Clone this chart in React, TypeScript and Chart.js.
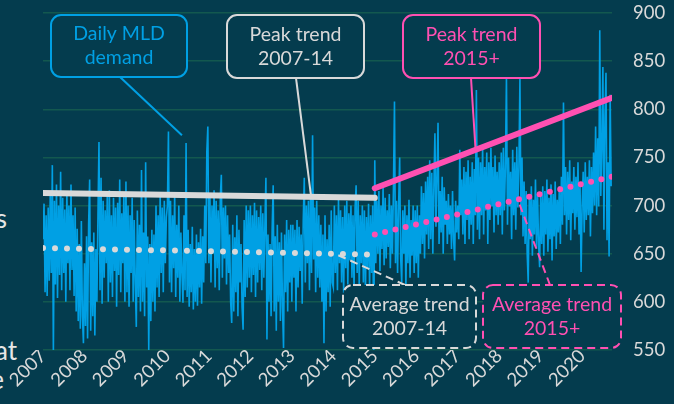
import { useEffect, useRef } from 'react';
import { Chart, registerables } from 'chart.js';

Chart.register(...registerables);

const years = [2007, 2008, 2009, 2010, 2011, 2012, 2013, 2014, 2015, 2016, 2017, 2018, 2019, 2020];
const samplesPerYear = 40;

const demand2007 = [665, 702, 610, 690, 606, 698, 622, 712, 630, 742, 547, 705, 618, 722, 604, 700, 628, 735, 612, 708, 630, 696, 600, 715, 640, 700, 612, 722, 633, 690, 606, 698, 590, 676, 580, 660, 572, 684, 585, 557];
const demand2008 = [640, 575, 668, 562, 680, 727, 570, 662, 585, 672, 565, 655, 600, 690, 766, 612, 729, 598, 705, 625, 695, 640, 712, 600, 716, 620, 690, 605, 708, 632, 698, 595, 703, 628, 727, 610, 692, 640, 713, 600];
const demand2009 = [725, 610, 700, 595, 690, 630, 708, 600, 685, 620, 574, 695, 605, 680, 590, 737, 600, 672, 585, 745, 615, 668, 550, 660, 580, 675, 600, 670, 590, 700, 615, 690, 605, 712, 630, 698, 610, 705, 640, 688];
const demand2010 = [700, 777, 620, 705, 610, 690, 635, 712, 605, 680, 625, 700, 600, 672, 630, 599, 690, 612, 765, 605, 675, 595, 660, 610, 678, 592, 655, 600, 670, 596, 662, 615, 676, 598, 668, 620, 700, 640, 756, 782];
const demand2011 = [640, 710, 620, 700, 650, 716, 615, 705, 635, 695, 612, 708, 732, 625, 698, 645, 700, 618, 690, 630, 670, 600, 578, 680, 590, 667, 610, 690, 585, 675, 620, 660, 595, 571, 685, 605, 700, 615, 695, 625];
const demand2012 = [700, 610, 690, 628, 703, 605, 695, 620, 688, 633, 700, 612, 692, 625, 680, 729, 561, 670, 600, 660, 585, 675, 721, 590, 668, 570, 680, 600, 662, 580, 672, 595, 552, 670, 610, 685, 590, 675, 620, 680];
const demand2013 = [600, 680, 625, 675, 590, 685, 615, 678, 632, 670, 598, 684, 729, 620, 700, 640, 705, 612, 710, 630, 773, 644, 698, 610, 705, 625, 690, 615, 680, 600, 670, 557, 690, 590, 665, 610, 680, 595, 695, 620];
const demand2014 = [615, 700, 630, 690, 612, 706, 640, 695, 620, 688, 609, 700, 635, 705, 618, 692, 643, 700, 625, 690, 612, 698, 721, 630, 705, 615, 690, 640, 700, 620, 695, 610, 688, 635, 702, 615, 690, 630, 700, 548];
const demand2015 = [747, 640, 705, 650, 715, 632, 700, 655, 719, 638, 708, 645, 695, 657, 712, 635, 700, 650, 718, 808, 640, 705, 630, 700, 750, 645, 620, 695, 650, 700, 615, 690, 640, 706, 625, 685, 648, 700, 630, 695];
const demand2016 = [640, 700, 625, 690, 650, 720, 660, 713, 645, 725, 670, 730, 655, 747, 665, 734, 650, 720, 775, 678, 728, 786, 660, 715, 672, 730, 650, 719, 680, 705, 660, 712, 670, 700, 655, 715, 665, 643, 705, 672];
const demand2017 = [700, 665, 758, 690, 727, 670, 740, 660, 735, 685, 747, 665, 730, 680, 745, 660, 738, 690, 820, 675, 750, 665, 745, 690, 761, 670, 740, 695, 755, 660, 745, 685, 760, 699, 740, 672, 752, 690, 735, 680];
const demand2018 = [745, 690, 755, 670, 760, 695, 740, 834, 680, 750, 699, 735, 665, 758, 690, 745, 675, 761, 698, 740, 832, 690, 750, 668, 725, 660, 715, 650, 620, 710, 665, 720, 648, 706, 670, 727, 655, 712, 660, 636];
const demand2019 = [710, 660, 720, 648, 715, 670, 727, 652, 708, 665, 722, 643, 712, 668, 725, 655, 706, 672, 720, 660, 730, 680, 807, 690, 740, 670, 735, 685, 747, 664, 725, 692, 740, 675, 730, 688, 745, 670, 720, 631];
const demand2020 = [700, 735, 672, 745, 685, 730, 690, 747, 668, 740, 692, 755, 700, 782, 690, 770, 699, 882, 710, 760, 844, 675, 790, 838, 664, 745, 647, 815, 720];

const demandByYear = [demand2007, demand2008, demand2009, demand2010, demand2011, demand2012, demand2013, demand2014, demand2015, demand2016, demand2017, demand2018, demand2019, demand2020];

// Trend lines [start, end]
const trendEarlyYears = [2007, 2015];
const peakTrendEarly = [713, 708];
const avgTrendEarly = [656, 649];
const trendLateYears = [2015, 2020.72];
const peakTrendLate = [718, 812];
const avgTrendLate = [670, 730];

const xMin = 2007;
const xMax = 2020.72;
const yMin = 550;
const yMax = 900;
const yStep = 50;

// ---- Styles ----
const BG = '#043c4e';
const GRID = '#13584f';
const TEXT = '#d9d9d9';
const BLUE = '#00a0e4';
const PINK = '#ff50b2';
const FONT = 'Lato, "Open Sans", sans-serif';

type Callout = {
  lines: string[];
  color: string;
  box: [number, number, number, number];
  dashed: boolean;
  from: [number, number];
  to: [number, number]; // data coords (year, value)
};

const callouts: Callout[] = [
  { lines: ['Daily MLD', 'demand'], color: BLUE, box: [51, 15, 136, 62], dashed: false, from: [120, 77], to: [2010.35, 773] },
  { lines: ['Peak trend', '2007-14'], color: TEXT, box: [227, 15, 137, 63], dashed: false, from: [296, 78], to: [2013.46, 711] },
  { lines: ['Peak trend', '2015+'], color: PINK, box: [403, 15, 137, 63], dashed: false, from: [471, 78], to: [2017.43, 758] },
  { lines: ['Average trend', '2007-14'], color: TEXT, box: [343, 285, 133, 63], dashed: true, from: [405, 285], to: [2014.04, 650] },
  { lines: ['Average trend', '2015+'], color: PINK, box: [483, 285, 138, 63], dashed: true, from: [550, 285], to: [2018.45, 706] },
];

const calloutPlugin = {
  id: 'callouts',
  afterDatasetsDraw(chart: any) {
    const ctx: CanvasRenderingContext2D = chart.ctx;
    const xs = chart.scales.x;
    const ys = chart.scales.y;
    for (const c of callouts) {
      const [bx, by, bw, bh] = c.box;
      ctx.save();
      ctx.lineWidth = 2;
      ctx.strokeStyle = c.color;
      ctx.setLineDash(c.dashed ? [8, 5] : []);
      ctx.beginPath();
      ctx.moveTo(c.from[0], c.from[1]);
      ctx.lineTo(xs.getPixelForValue(c.to[0]), ys.getPixelForValue(c.to[1]));
      ctx.stroke();
      ctx.beginPath();
      (ctx as any).roundRect(bx, by, bw, bh, 10);
      ctx.fillStyle = BG;
      ctx.fill();
      ctx.stroke();
      ctx.setLineDash([]);
      ctx.fillStyle = c.color;
      ctx.font = `19.5px ${FONT}`;
      ctx.textAlign = 'center';
      ctx.textBaseline = 'middle';
      c.lines.forEach((t, i) => {
        ctx.fillText(t, bx + bw / 2, by + bh / 2 + (i - 0.5) * 24);
      });
      ctx.restore();
    }
  },
};

export default function App() {
  const ref = useRef<HTMLCanvasElement | null>(null);

  useEffect(() => {
    if (!ref.current) return;
    const daily: { x: number; y: number }[] = [];
    demandByYear.forEach((arr, yi) => {
      arr.forEach((v, i) => daily.push({ x: years[yi] + i / samplesPerYear, y: v }));
    });
    const pts = (xsArr: number[], ysArr: number[]) => xsArr.map((x, i) => ({ x, y: ysArr[i] }));

    Chart.defaults.font.family = FONT;

    const chart = new Chart(ref.current, {
      type: 'line',
      data: {
        datasets: [
          { label: 'Daily MLD demand', data: daily, borderColor: BLUE, borderWidth: 1.6, pointRadius: 0, tension: 0, order: 5 },
          { label: 'Peak trend 2007-14', data: pts(trendEarlyYears, peakTrendEarly), borderColor: TEXT, borderWidth: 6, pointRadius: 0, borderCapStyle: 'round', order: 1 },
          { label: 'Average trend 2007-14', data: pts(trendEarlyYears, avgTrendEarly), borderColor: TEXT, borderWidth: 6, pointRadius: 0, borderCapStyle: 'round', borderDash: [0, 12], order: 1 },
          { label: 'Peak trend 2015+', data: pts(trendLateYears, peakTrendLate), borderColor: PINK, borderWidth: 6, pointRadius: 0, borderCapStyle: 'round', order: 1 },
          { label: 'Average trend 2015+', data: pts(trendLateYears, avgTrendLate), borderColor: PINK, borderWidth: 6, pointRadius: 0, borderCapStyle: 'round', borderDash: [0, 10.6], order: 1 },
        ] as any,
      },
      options: {
        animation: false,
        responsive: false,
        events: [],
        layout: { padding: { left: 43, top: 13, right: 0, bottom: 0 } },
        plugins: { legend: { display: false }, tooltip: { enabled: false } },
        scales: {
          x: {
            type: 'linear',
            min: xMin,
            max: xMax,
            border: { display: false },
            grid: { display: false, drawTicks: false },
            ticks: {
              stepSize: 1,
              includeBounds: false,
              autoSkip: false,
              minRotation: 45,
              maxRotation: 45,
              padding: -5,
              color: TEXT,
              font: { size: 18.5, family: FONT },
              callback: (v: any) => String(v),
            },
            afterFit: (s: any) => { s.height = 54; s.paddingLeft = 0; s.paddingRight = 0; },
          },
          y: {
            type: 'linear',
            position: 'right',
            min: yMin,
            max: yMax,
            border: { display: false },
            grid: { color: GRID, lineWidth: 1.5, drawTicks: false },
            ticks: {
              stepSize: yStep,
              padding: 21,
              color: TEXT,
              font: { size: 18.5, family: FONT },
            },
            afterFit: (s: any) => { s.width = 62; s.paddingTop = 0; s.paddingBottom = 0; },
          },
        },
      } as any,
      plugins: [calloutPlugin],
    });
    return () => chart.destroy();
  }, []);

  const frag = (text: string, right: number, baseline: number) => (
    <div
      style={{
        position: 'absolute',
        left: right - 120,
        width: 120,
        top: baseline - 23,
        textAlign: 'right',
        fontFamily: FONT,
        fontSize: 26,
        lineHeight: '26px',
        color: '#e6e6e6',
        whiteSpace: 'nowrap',
      }}
    >
      {text}
    </div>
  );

  return (
    <div style={{ position: 'fixed', left: 0, top: 0, width: 674, height: 404, background: BG, overflow: 'hidden' }}>
      {frag('s', 7, 228)}
      {frag('at', 17, 360)}
      {frag('e', 4, 389)}
      <canvas ref={ref} width={674} height={404} style={{ position: 'absolute', left: 0, top: 0, width: 674, height: 404 }} />
    </div>
  );
}
